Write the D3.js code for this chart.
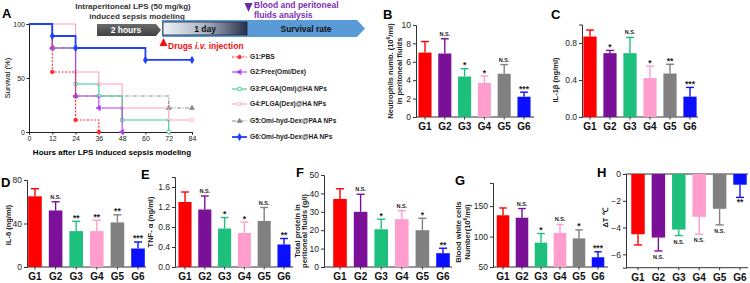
<!DOCTYPE html>
<html>
<head>
<meta charset="utf-8">
<script src="https://cdn.jsdelivr.net/npm/d3@7"></script>
<style>
  body { margin: 0; background: #fff; }
  svg { font-family: "Liberation Sans", Arial, sans-serif; }
  .tick text { fill: #222; }
</style>
</head>
<body>
<div id="chart"></div>
<script>
// ---- data ----
const groups = ['G1', 'G2', 'G3', 'G4', 'G5', 'G6'];
const groupNames = ['G1:PBS', 'G2:Free(Omi/Dex)', 'G3:PLGA(Omi)@HA NPs', 'G4:PLGA(Dex)@HA NPs',
  'G5:Omi-hyd-Dex@PAA NPs', 'G6:Omi-hyd-Dex@HA NPs'];

const survTimes = [0, 12, 24, 36, 48, 60, 72, 84];
const survG1 = [100, 55.6, 11.1, 0];
const survG2 = [100, 77.8, 33.3, 22.2, 0];
const survG3 = [100, 77.8, 44.4, 33.3, 11.1, 11.1, 0];
const survG4 = [100, 100, 55.6, 44.4, 22.2, 22.2, 11.1, 11.1];
const survG5 = [100, 77.8, 33.3, 33.3, 33.3, 33.3, 22.2, 22.2];
const survG6 = [100, 88.9, 77.8, 77.8, 77.8, 66.7, 66.7, 66.7];
const survTicksX = [0, 12, 24, 36, 48, 60, 72, 84];
const survTicksY = [0, 50, 100];

const neutroMean = [7.0, 6.9, 4.4, 3.7, 4.7, 2.2];
const neutroErr = [1.2, 1.6, 0.85, 0.75, 1.0, 0.5];
const neutroSig = ['', 'N.S.', '*', '*', 'N.S.', '***'];

const il1bMean = [0.87, 0.69, 0.69, 0.42, 0.47, 0.22];
const il1bErr = [0.07, 0.03, 0.17, 0.13, 0.10, 0.10];
const il1bSig = ['', '*', 'N.S.', '*', '**', '***'];

const il6Mean = [65, 52, 33, 33, 41, 17];
const il6Err = [7, 8, 9, 10, 7, 6];
const il6Sig = ['', 'N.S.', '**', '**', '**', '***'];

const tnfMean = [1.3, 1.15, 0.77, 0.68, 0.92, 0.45];
const tnfErr = [0.2, 0.27, 0.22, 0.22, 0.27, 0.12];
const tnfSig = ['', 'N.S.', '*', '*', 'N.S.', '**'];

const proteinMean = [37, 30, 20.5, 26, 20, 7.5];
const proteinErr = [5.5, 9.5, 5.5, 4.6, 6.5, 2.7];
const proteinSig = ['', 'N.S.', '*', 'N.S.', '*', '**'];

const wbcMean = [135, 131, 90, 106, 97, 66];
const wbcErr = [12, 15, 15, 14, 14, 9];
const wbcSig = ['', 'N.S.', '*', 'N.S.', '*', '***'];

const tempMean = [-4.5, -4.75, -4.15, -3.2, -2.6, -0.8];
const tempErr = [0.8, 1.0, 0.45, 1.3, 1.2, 0.95];
const tempSig = ['', 'N.S.', 'N.S.', 'N.S.', 'N.S.', '**'];

// ---- styles ----
const barColors = ['#ff0000', '#7b1098', '#1dbf7d', '#ff9dcd', '#808080', '#0a10ff'];
const survColors = ['#ff2a2a', '#b23ef0', '#3cc98d', '#ff9fc4', '#8a8a8a', '#2040ff'];

const width = 750, height = 283;
const svg = d3.select('#chart').append('svg')
  .attr('width', width).attr('height', height);

const panelLetter = (x, y, t) => svg.append('text')
  .attr('x', x).attr('y', y).attr('font-size', 13).attr('font-weight', 'bold').text(t);

// ---- panel A: timeline ----
const tl = svg.append('g');
tl.append('text').attr('x', 133).attr('y', 9).attr('text-anchor', 'middle')
  .attr('font-size', 8).attr('font-weight', 'bold').attr('fill', '#333')
  .text('Intraperitoneal LPS (50 mg/kg)');
tl.append('text').attr('x', 137).attr('y', 19).attr('text-anchor', 'middle')
  .attr('font-size', 8).attr('font-weight', 'bold').attr('fill', '#333')
  .text('induced sepsis  modeling');

const defs = svg.append('defs');
const gradGrey = defs.append('linearGradient').attr('id', 'gGrey').attr('x1', 0).attr('x2', 0).attr('y1', 0).attr('y2', 1);
gradGrey.append('stop').attr('offset', 0).attr('stop-color', '#6b6b6b');
gradGrey.append('stop').attr('offset', 1).attr('stop-color', '#404040');
const gradDay = defs.append('linearGradient').attr('id', 'gDay');
gradDay.append('stop').attr('offset', 0).attr('stop-color', '#eef2f7');
gradDay.append('stop').attr('offset', 0.5).attr('stop-color', '#aab3c2');
gradDay.append('stop').attr('offset', 1).attr('stop-color', '#26304a');

tl.append('path').attr('d', 'M97,24 L156,24 L161,30 L156,36 L97,36 Z').attr('fill', 'url(#gGrey)');
tl.append('text').attr('x', 126).attr('y', 33).attr('text-anchor', 'middle')
  .attr('font-size', 8.5).attr('font-weight', 'bold').attr('fill', '#fff').text('2 hours');
tl.append('path').attr('d', 'M162,20 L357,20 L365,28.5 L357,37 L162,37 Z').attr('fill', '#5a9ad6');
tl.append('rect').attr('x', 163).attr('y', 22).attr('width', 84).attr('height', 13)
  .attr('fill', 'url(#gDay)').attr('stroke', '#1e2638').attr('stroke-width', 0.8);
tl.append('text').attr('x', 205).attr('y', 31.5).attr('text-anchor', 'middle')
  .attr('font-size', 8.5).attr('font-weight', 'bold').attr('fill', '#111').text('1 day');
tl.append('text').attr('x', 306).attr('y', 31.5).attr('text-anchor', 'middle')
  .attr('font-size', 8.5).attr('font-weight', 'bold').attr('fill', '#111').text('Survival rate');
tl.append('path').attr('d', 'M244.5,3 L252.5,3 L248.5,12 Z').attr('fill', '#6b2aa8');
tl.append('text').attr('x', 254).attr('y', 8).attr('font-size', 8.5).attr('font-weight', 'bold')
  .attr('fill', '#7b30b8').text('Blood and peritoneal');
tl.append('text').attr('x', 254).attr('y', 18).attr('font-size', 8.5).attr('font-weight', 'bold')
  .attr('fill', '#7b30b8').text('fluids analysis');
tl.append('path').attr('d', 'M163.5,38 L167.5,46 L159.5,46 Z').attr('fill', '#ee1111');
const drugs = tl.append('text').attr('x', 168).attr('y', 48.5).attr('font-size', 8.5)
  .attr('font-weight', 'bold').attr('fill', '#ee1111');
drugs.append('tspan').text('Drugs ');
drugs.append('tspan').attr('font-style', 'italic').text('i.v.');
drugs.append('tspan').text(' injection');

// ---- panel A: survival ----
panelLetter(2, 18, 'A');
const sx = d3.scaleLinear().domain([0, 84]).range([29, 192]);
const sy = d3.scaleLinear().domain([0, 100]).range([132, 24]);
const sa = svg.append('g');
sa.append('g').attr('transform', 'translate(0,132)')
  .call(d3.axisBottom(sx).tickValues(survTicksX).tickSize(2.5).tickPadding(1.5))
  .call(g => g.selectAll('text').attr('font-size', 7));
sa.append('g').attr('transform', 'translate(29,0)')
  .call(d3.axisLeft(sy).tickValues(survTicksY).tickSize(2.5).tickPadding(1.5))
  .call(g => g.selectAll('text').attr('font-size', 7));
sa.selectAll('.domain, .tick line').attr('stroke', '#222');
sa.append('text').attr('x', 112).attr('y', 155).attr('text-anchor', 'middle')
  .attr('font-size', 8).attr('font-weight', 'bold').text('Hours after LPS induced sepsis modeling');
sa.append('text').attr('transform', 'translate(10,78) rotate(-90)').attr('text-anchor', 'middle')
  .attr('font-size', 7.5).text('Survival (%)');

const survSets = [survG1, survG2, survG3, survG4, survG5, survG6];
const dashes = ['2,1.5', null, null, null, '4,1.5,1,1.5', null];
const symbols = [d3.symbolCircle, d3.symbolTriangle, d3.symbolSquare, d3.symbolCircle, d3.symbolTriangle, d3.symbolDiamond];
const symFill = [true, true, false, false, true, true];
const symRot = [0, -90, 0, 0, 0, 0];
const stepLine = d3.line().curve(d3.curveStepAfter).x(d => sx(d[0])).y(d => sy(d[1]));
// draw back to front so that G6 sits on top
[4, 3, 2, 1, 0, 5].forEach(i => {
  const pts = survSets[i].map((v, j) => [survTimes[j], v]);
  sa.append('path').attr('d', stepLine(pts)).attr('fill', 'none')
    .attr('stroke', survColors[i]).attr('stroke-width', i === 5 ? 1.8 : 1.1)
    .attr('stroke-dasharray', dashes[i]);
  const marks = pts.filter((p, j) => j > 0 && (p[1] !== pts[j - 1][1] || j === pts.length - 1));
  sa.selectAll(null).data(marks).enter().append('path')
    .attr('d', d3.symbol().type(symbols[i]).size(i === 5 ? 14 : 10))
    .attr('transform', d => `translate(${sx(d[0])},${sy(d[1])}) rotate(${symRot[i]})`)
    .attr('fill', symFill[i] ? survColors[i] : '#fff')
    .attr('stroke', survColors[i]).attr('stroke-width', 0.8);
});

// legend
const lg = svg.append('g');
const legY = [57, 72, 89, 104, 121, 137];
groupNames.forEach((n, i) => {
  const y = legY[i];
  lg.append('line').attr('x1', 232).attr('x2', 247).attr('y1', y).attr('y2', y)
    .attr('stroke', survColors[i]).attr('stroke-width', i === 5 ? 1.8 : 1.1)
    .attr('stroke-dasharray', dashes[i]);
  lg.append('path').attr('d', d3.symbol().type(symbols[i]).size(i === 5 ? 14 : 10))
    .attr('transform', `translate(239.5,${y}) rotate(${symRot[i]})`)
    .attr('fill', symFill[i] ? survColors[i] : '#fff')
    .attr('stroke', survColors[i]).attr('stroke-width', 0.8);
  lg.append('text').attr('x', 250).attr('y', y + 2.3).attr('font-size', 6.6)
    .attr('font-weight', 'bold').attr('fill', '#222').text(n);
});

// ---- bar panels ----
function barPanel(p) {
  const g = svg.append('g');
  const x = d3.scalePoint().domain(groups).range([p.c0, p.c1]);
  const y = d3.scaleLinear().domain(p.domain).range([p.yb, p.yt]);
  const bw = x.step() * 0.66;
  const base = y(p.base || 0);

  g.append('g').attr('transform', `translate(${p.ax},0)`)
    .call(d3.axisLeft(y).tickValues(p.ticks).tickSize(3).tickPadding(2).tickFormat(p.fmt || d3.format('')))
    .call(a => a.selectAll('text').attr('font-size', 8.5))
    .call(a => a.selectAll('.domain, .tick line').attr('stroke', '#333'));

  const labY = p.labelY || (p.yb + 13);
  const axY = p.neg ? y(p.domain[0]) : p.yb;
  g.append('line').attr('x1', p.ax).attr('x2', p.axEnd).attr('y1', axY).attr('y2', axY)
    .attr('stroke', '#333');
  if (p.neg) {
    g.append('line').attr('x1', p.ax).attr('x2', p.axEnd).attr('y1', base).attr('y2', base)
      .attr('stroke', '#333');
  }
  g.selectAll('.xl').data(groups).enter().append('text')
    .attr('x', d => x(d)).attr('y', labY).attr('text-anchor', 'middle')
    .attr('font-size', 10).attr('font-weight', 'bold').attr('fill', '#111').text(d => d);
  g.selectAll('.xt').data(groups).enter().append('line')
    .attr('x1', d => x(d)).attr('x2', d => x(d)).attr('y1', axY).attr('y2', axY + 2.5)
    .attr('stroke', '#333');

  const rows = groups.map((k, i) => ({ k, v: p.mean[i], e: p.err[i], s: p.sig[i], c: barColors[i] }));
  g.selectAll('.bar').data(rows).enter().append('rect')
    .attr('x', d => x(d.k) - bw / 2).attr('width', bw)
    .attr('y', d => Math.min(y(d.v), base)).attr('height', d => Math.abs(y(d.v) - base))
    .attr('fill', d => d.c);
  const sign = d => (d.v < 0 ? -1 : 1);
  g.selectAll('.eb').data(rows).enter().append('line')
    .attr('x1', d => x(d.k)).attr('x2', d => x(d.k))
    .attr('y1', d => y(d.v)).attr('y2', d => y(d.v + sign(d) * d.e))
    .attr('stroke', d => d.c).attr('stroke-width', 1.4);
  g.selectAll('.cap').data(rows).enter().append('line')
    .attr('x1', d => x(d.k) - bw * 0.3).attr('x2', d => x(d.k) + bw * 0.3)
    .attr('y1', d => y(d.v + sign(d) * d.e)).attr('y2', d => y(d.v + sign(d) * d.e))
    .attr('stroke', d => d.c).attr('stroke-width', 1.4);
  g.selectAll('.sig').data(rows.filter(d => d.s)).enter().append('text')
    .attr('x', d => x(d.k))
    .attr('y', d => {
      const ey = y(d.v + sign(d) * d.e);
      if (d.v < 0) return ey + 8;
      return ey - (d.s === 'N.S.' ? 3 : 0.5);
    })
    .attr('text-anchor', 'middle').attr('font-weight', 'bold').attr('fill', '#222')
    .attr('font-size', d => (d.s === 'N.S.' ? 5.5 : 8.5)).text(d => d.s);

  const title = g.append('text').attr('transform', `translate(${p.tx},${p.ty}) rotate(-90)`)
    .attr('text-anchor', 'middle').attr('font-size', 7.5).attr('font-weight', 'bold').attr('fill', '#222');
  p.title.forEach((t, i) => {
    const ts = title.append('tspan').attr('x', 0).attr('dy', i === 0 ? 0 : (p.lh || 8.5));
    if (Array.isArray(t)) {
      t.forEach(part => {
        const s = ts.append('tspan').text(part.t);
        if (part.sup) s.attr('font-size', 5).attr('dy', -3);
        if (part.after) s.attr('dy', 3);
      });
    } else ts.text(t);
  });
  panelLetter(p.lx, p.ly, p.letter);
}

barPanel({
  letter: 'B', lx: 383, ly: 19, ax: 416, axEnd: 534, c0: 425, c1: 524, yb: 117, yt: 25,
  domain: [0, 10], ticks: [0, 2, 4, 6, 8, 10], mean: neutroMean, err: neutroErr, sig: neutroSig,
  tx: 393, ty: 71,
  title: [[{ t: 'Neutrophils numb. (10' }, { t: '6', sup: true }, { t: '/ml)', after: true }], 'in peritoneal fluids']
});
barPanel({
  letter: 'C', lx: 551, ly: 19, ax: 582, axEnd: 698, c0: 590, c1: 690, yb: 117, yt: 24.5,
  domain: [0, 1.0], ticks: [0, 0.4, 0.8], fmt: d3.format('.1f'), mean: il1bMean, err: il1bErr, sig: il1bSig,
  tx: 558, ty: 80, title: ['IL-1β (ng/ml)']
});
barPanel({
  letter: 'D', lx: 1, ly: 187, ax: 27, axEnd: 146, c0: 35, c1: 138, yb: 267, yt: 180,
  domain: [0, 80], ticks: [0, 40, 80], mean: il6Mean, err: il6Err, sig: il6Sig,
  tx: 11, ty: 225, title: ['IL-6 (ng/ml)']
});
barPanel({
  letter: 'E', lx: 141, ly: 179, ax: 175, axEnd: 293, c0: 185, c1: 284, yb: 267, yt: 177,
  domain: [0, 1.8], ticks: [0, 0.4, 0.8, 1.2, 1.6], fmt: d3.format('.1f'), mean: tnfMean, err: tnfErr, sig: tnfSig,
  tx: 153, ty: 222, title: ['TNF- α (ng/ml)']
});
barPanel({
  letter: 'F', lx: 296, ly: 177, ax: 324, axEnd: 452, c0: 340, c1: 443, yb: 267, yt: 175,
  domain: [0, 50], ticks: [0, 10, 20, 30, 40, 50], mean: proteinMean, err: proteinErr, sig: proteinSig,
  tx: 299.5, ty: 231, lh: 7.8, title: ['Total protein in', 'peritoneal fluids  (g/l)']
});
barPanel({
  letter: 'G', lx: 455, ly: 185, ax: 493, axEnd: 608, c0: 503, c1: 598, yb: 267, yt: 183,
  domain: [50, 188], base: 50, ticks: [50, 100, 150], mean: wbcMean, err: wbcErr, sig: wbcSig,
  tx: 461, ty: 232,
  title: ['Blood  white cells', [{ t: 'Number(10' }, { t: '6', sup: true }, { t: '/ml)', after: true }]]
});
barPanel({
  letter: 'H', lx: 597, ly: 177, ax: 626, axEnd: 748, c0: 638, c1: 740, yb: 267.7, yt: 174,
  domain: [-7, 0], ticks: [0, -2, -4, -6], neg: true, mean: tempMean, err: tempErr, sig: tempSig,
  labelY: 280.5, tx: 608, ty: 218, title: ['ΔT ℃']
});
</script>
</body>
</html>
